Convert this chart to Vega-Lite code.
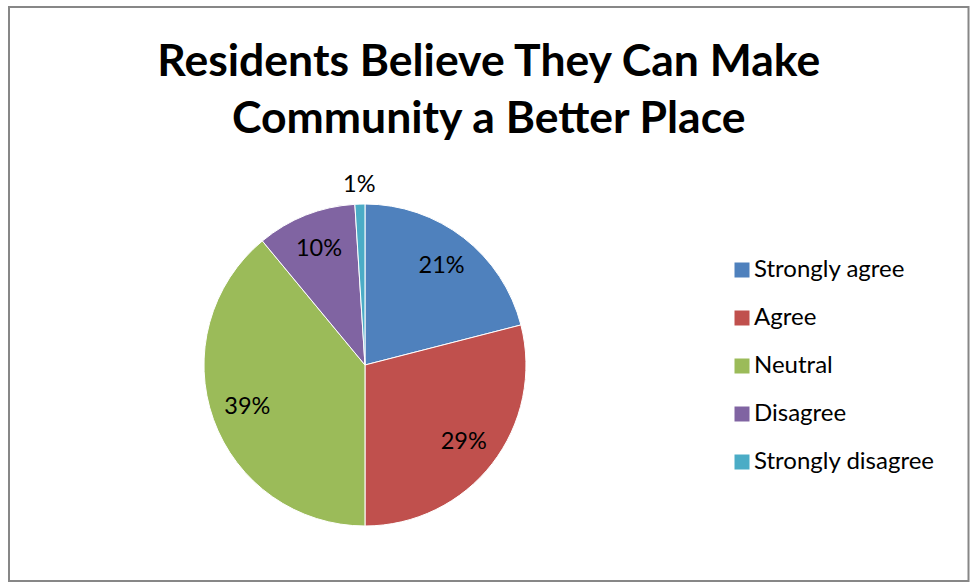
{
  "$schema": "https://vega.github.io/schema/vega-lite/v6.json",
  "width": 973,
  "height": 583,
  "autosize": {"type": "fit", "contains": "padding"},
  "padding": {"left": 9, "top": 7, "right": 4.5, "bottom": 2},
  "background": "white",
  "view": {"stroke": "#878787", "strokeWidth": 2, "fill": "white"},
  "config": {
    "font": "Lato"
  },
  "title": {
    "text": ["Residents Believe They Can Make", "Community a Better Place"],
    "font": "Lato",
    "fontSize": 44.5,
    "fontWeight": "bold",
    "color": "#000000",
    "lineHeight": 57,
    "anchor": "middle",
    "offset": -135
  },
  "data": {
    "values": [
      {"category": "Strongly agree", "value": 0.21, "rank": 1},
      {"category": "Agree", "value": 0.29, "rank": 2},
      {"category": "Neutral", "value": 0.39, "rank": 3},
      {"category": "Disagree", "value": 0.10, "rank": 4},
      {"category": "Strongly disagree", "value": 0.01, "rank": 5}
    ]
  },
  "encoding": {
    "theta": {"field": "value", "type": "quantitative", "stack": true},
    "order": {"field": "rank", "type": "quantitative"}
  },
  "layer": [
    {
      "mark": {
        "type": "arc",
        "radius": 161,
        "x": {"expr": "width * 0.371"},
        "y": {"expr": "height * 0.6237"},
        "stroke": "white",
        "strokeWidth": 1
      },
      "encoding": {
        "color": {
          "field": "category",
          "type": "nominal",
          "sort": ["Strongly agree", "Agree", "Neutral", "Disagree", "Strongly disagree"],
          "scale": {
            "domain": ["Strongly agree", "Agree", "Neutral", "Disagree", "Strongly disagree"],
            "range": ["#4F81BD", "#C0504D", "#9BBB59", "#8064A2", "#4BACC6"]
          },
          "legend": {
            "title": null,
            "orient": "none",
            "legendX": 721,
            "legendY": 251,
            "padding": 0,
            "symbolType": "square",
            "symbolSize": 225,
            "symbolStrokeWidth": 0,
            "labelFont": "Lato",
            "labelFontSize": 24,
            "labelColor": "#000000",
            "labelOffset": 0,
            "rowPadding": 24,
            "labelLimit": 300
          }
        }
      }
    },
    {
      "mark": {
        "type": "text",
        "radius": 125,
        "x": {"expr": "width * 0.371"},
        "y": {"expr": "height * 0.6237"},
        "font": "Lato",
        "fontSize": 23.5,
        "color": "#000000"
      },
      "encoding": {
        "detail": {"field": "category", "type": "nominal"},
        "text": {
          "condition": {"test": "datum.value < 0.05", "value": ""},
          "field": "value",
          "type": "quantitative",
          "format": ".0%"
        }
      }
    },
    {
      "mark": {
        "type": "text",
        "radius": 180,
        "x": {"expr": "width * 0.371"},
        "y": {"expr": "height * 0.6237"},
        "font": "Lato",
        "fontSize": 23.5,
        "color": "#000000"
      },
      "encoding": {
        "detail": {"field": "category", "type": "nominal"},
        "text": {
          "condition": {"test": "datum.value >= 0.05", "value": ""},
          "field": "value",
          "type": "quantitative",
          "format": ".0%"
        }
      }
    }
  ]
}
